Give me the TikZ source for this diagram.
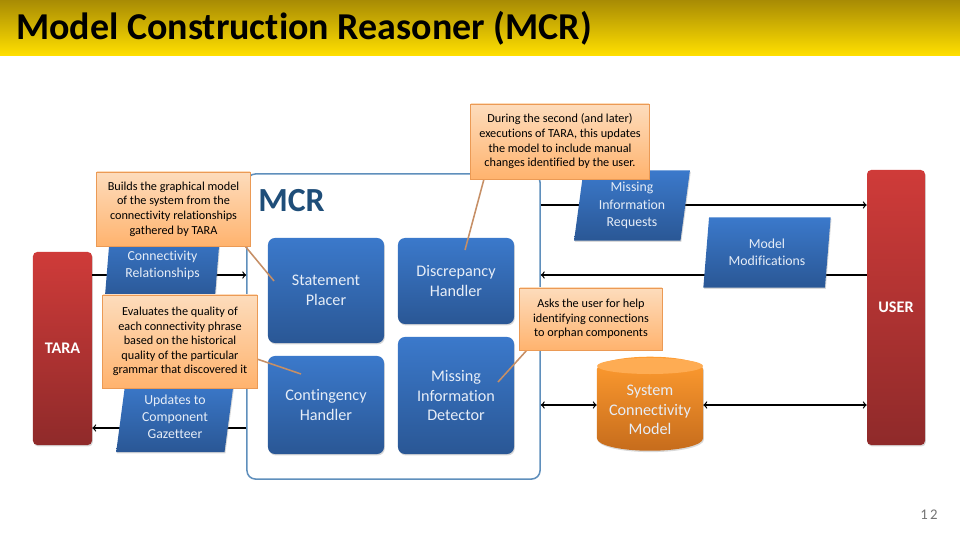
\documentclass[tikz,border=0pt]{standalone}
\usepackage{fontspec}
\setmainfont{Carlito}[Ligatures=NoCommon]
\usetikzlibrary{shapes.geometric,shadows,arrows}
\definecolor{bandtop}{HTML}{A88B04}
\definecolor{bandbot}{HTML}{FFDF00}
\definecolor{bluetop}{HTML}{3B79CB}
\definecolor{bluebot}{HTML}{2A5795}
\definecolor{redtop}{HTML}{CF3B39}
\definecolor{redbot}{HTML}{8F2A2A}
\definecolor{ortop}{HTML}{FF9C30}
\definecolor{orbot}{HTML}{C66C1C}
\definecolor{notetop}{HTML}{FDDCBC}
\definecolor{notebot}{HTML}{FFB36E}
\definecolor{noteline}{HTML}{EB9A55}
\definecolor{tipline}{HTML}{C68F66}
\definecolor{frameline}{HTML}{5F8FBC}
\definecolor{boxtext}{HTML}{E6EDF7}
\definecolor{mcrtext}{HTML}{1F4E79}
\tikzset{
    softshadow/.style={drop shadow={shadow xshift=0.6pt, shadow yshift=-1pt, opacity=0.3}},
    handler/.style={rectangle, rounded corners=5pt, top color=bluetop, bottom color=bluebot, softshadow,
        text=boxtext, align=center, font=\fontsize{11.5}{14}\selectfont, inner sep=0pt},
    actor/.style={rectangle, rounded corners=3pt, top color=redtop, bottom color=redbot, softshadow,
        text=white, align=center, font=\fontsize{11.5}{14}\selectfont\bfseries, inner sep=0pt},
    flow/.style={trapezium, trapezium left angle=82, trapezium right angle=98, trapezium stretches=true,
        top color=bluetop, bottom color=bluebot, softshadow, text=boxtext, align=center,
        font=\fontsize{9.8}{12.2}\selectfont, inner sep=0pt, minimum height=1.75cm},
    note/.style={rectangle, top color=notetop, bottom color=notebot, draw=noteline, line width=0.7pt, softshadow,
        text=black, align=center, font=\fontsize{8.7}{10.4}\selectfont, inner sep=0pt},
    tip/.style={draw=tipline, line width=1.1pt},
    link/.style={line width=0.9pt, >=to},
}
\begin{document}
\begin{tikzpicture}[x=0.025cm, y=-0.025cm]
    \useasboundingbox (0,0) rectangle (960,540);

    % Title band
    \node[rectangle, top color=bandtop, bottom color=bandbot, minimum width=24cm, minimum height=1.375cm, inner sep=0pt] (band) at (480,27.5) {};
    \node[anchor=west, inner sep=0pt, font=\fontsize{27}{32}\selectfont\bfseries] (title) at (16,28) {Model Construction Reasoner (MCR)};
    \node[anchor=east, inner sep=0pt, text=black!55, font=\fontsize{10.5}{12}\selectfont] (page) at (938,515) {1\,2};

    % Frame and both actors
    \node[rectangle, rounded corners=6pt, draw=frameline, fill=white, line width=1.1pt, minimum width=7.325cm, minimum height=7.625cm, inner sep=0pt] (mcr) at (393.5,326.5) {};
    \node[anchor=west, inner sep=0pt, text=mcrtext, font=\fontsize{24}{28}\selectfont\bfseries] (mcrlabel) at (258,201) {MCR};
    \node[actor, minimum width=1.475cm, minimum height=4.825cm] (tara) at (62.5,348.5) {TARA};
    \node[actor, minimum width=1.45cm, minimum height=6.875cm] (user) at (896,307.5) {USER};

    % Handlers inside the frame
    \node[handler, minimum width=2.9cm, minimum height=2.625cm] (placer) at (326,290.5) {Statement\\Placer};
    \node[handler, minimum width=2.9cm, minimum height=2.15cm] (discrepancy) at (456,281) {Discrepancy\\Handler};
    \node[handler, minimum width=2.9cm, minimum height=2.45cm] (contingency) at (326,405) {Contingency\\Handler};
    \node[handler, minimum width=2.9cm, minimum height=2.925cm] (detector) at (456,395.5) {Missing\\Information\\Detector};

    % Data store
    \node[cylinder, shape border rotate=90, aspect=0.3, top color=ortop, bottom color=orbot, softshadow, minimum width=2.65cm, minimum height=2.35cm, inner sep=0pt, text=boxtext, align=center, font=\fontsize{11.5}{14}\selectfont] (store) at (650,410) {System\\Connectivity\\Model};
    \fill[ortop!75!notetop] (650,366) ellipse (53 and 8);

    % Arrows, drawn before the flow shapes that sit on them
    \coordinate (rowa) at (0,205);
    \coordinate (rowb) at (0,275);
    \coordinate (rowc) at (0,405);
    \coordinate (rowd) at (0,428);
    \draw[link, ->] (tara.east |- rowb) -- (mcr.west |- rowb);
    \draw[link, ->] (mcr.west |- rowd) -- (tara.east |- rowd);
    \draw[link, ->] (mcr.east |- rowa) -- (user.west |- rowa);
    \draw[link, ->] (user.west |- rowb) -- (mcr.east |- rowb);
    \draw[link, <->] (mcr.east |- rowc) -- (store.west |- rowc);
    \draw[link, <->] (store.east |- rowc) -- (user.west |- rowc);

    % Data passed along the arrows
    \node[flow, minimum width=2.9cm] (relations) at (162.5,265) {Connectivity\\Relationships};
    \node[flow, minimum width=2.95cm] (updates) at (175,417) {Updates to\\Component\\Gazetteer};
    \node[flow, minimum width=2.9cm] (requests) at (632,205.5) {Missing\\Information\\Requests};
    \node[flow, minimum width=3.2cm] (modifications) at (767,252.5) {Model\\Modifications};

    % Notes and the lines from them
    \coordinate (tipa) at (274,281);
    \coordinate (tipb) at (301,374);
    \coordinate (tipc) at (465,250);
    \coordinate (tipd) at (498,382);
    \draw[tip] (245,246) -- (tipa);
    \draw[tip] (257,359) -- (tipb);
    \draw[tip] (484,179) -- (tipc);
    \draw[tip] (527,350) -- (tipd);
    \node[note, minimum width=3.825cm, minimum height=1.85cm] (notea) at (173.5,209) {Builds the graphical model\\of the system from the\\connectivity relationships\\gathered by TARA};
    \node[note, minimum width=3.85cm, minimum height=2.325cm] (noteb) at (180,341.5) {Evaluates the quality of\\each connectivity phrase\\based on the historical\\quality of the particular\\grammar that discovered it};
    \node[note, minimum width=4.45cm, minimum height=1.875cm] (notec) at (560,141.5) {During the second (and later)\\executions of TARA, this updates\\the model to include manual\\changes identified by the user.};
    \node[note, minimum width=3.55cm, minimum height=1.55cm] (noted) at (591,319) {Asks the user for help\\identifying connections\\to orphan components};
\end{tikzpicture}
\end{document}
